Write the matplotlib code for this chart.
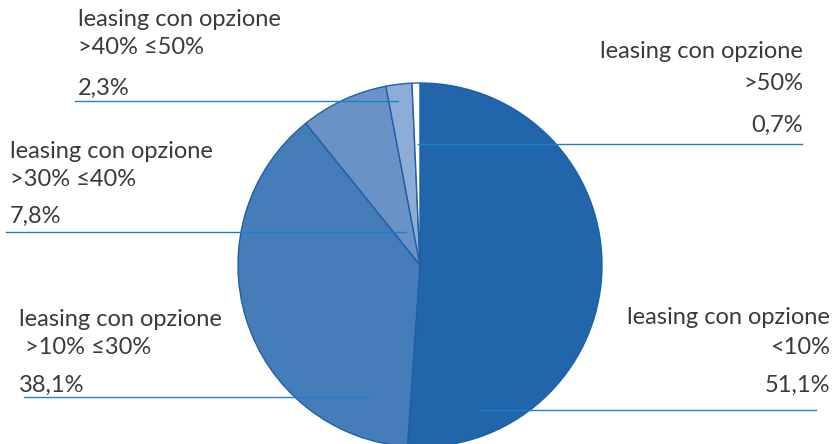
import matplotlib
matplotlib.use("Agg")
import matplotlib.pyplot as plt

# Share of leasing contracts by buy-out option
categories = ["<10%", ">10% \u226430%", ">30% \u226440%", ">40% \u226450%", ">50%"]
shares = [51.1, 38.1, 7.8, 2.3, 0.7]
value_labels = ["51,1%", "38,1%", "7,8%", "2,3%", "0,7%"]
colors = ["#2166ab", "#457db9", "#6993c7", "#8eadd6", "#ffffff"]

W, H = 834, 444
fig = plt.figure(figsize=(W / 100, H / 100), dpi=100)
ax = fig.add_axes([0, 0, 1, 1])

cx, cy, r = 420, H - 265, 182
ax.pie(shares, colors=colors, startangle=90, counterclock=False,
       center=(cx, cy), radius=r,
       wedgeprops=dict(edgecolor="#1f5fa8", linewidth=1.0))

ax.set_xlim(0, W)
ax.set_ylim(0, H)
ax.set_aspect("equal")
ax.axis("off")

txt = dict(color="#3a3a3a", fontsize=17, family="Lato")
line_color = "#1a80cc"

def y(p):
    return H - p

# label blocks: (text x, align, y of title, y of range, y of value, line y, line x0, line x1)
layout = {
    ">40% \u226450%": (78, "left", 20, 48, 88, 101, 75, 398),
    ">50%": (803, "right", 52, 83, 125, 144, 418, 802),
    ">30% \u226440%": (10, "left", 152, 180, 216, 232, 6, 406),
    ">10% \u226430%": (19, "left", 319, 347, 385, 397, 24, 369),
    "<10%": (830, "right", 318, 348, 385, 410, 479, 816),
}

for cat, val in zip(categories, value_labels):
    tx, ha, yt, yr, yv, ly, lx0, lx1 = layout[cat]
    rng = (" " + cat) if cat.startswith(">10") else cat
    ax.text(tx, y(yt), "leasing con opzione", ha=ha, va="center", **txt)
    ax.text(tx, y(yr), rng, ha=ha, va="center", **txt)
    ax.text(tx, y(yv), val, ha=ha, va="center", **txt)
    ax.plot([lx0, lx1], [y(ly), y(ly)], color=line_color, lw=1.0)

fig.savefig("out.png", dpi=100)
